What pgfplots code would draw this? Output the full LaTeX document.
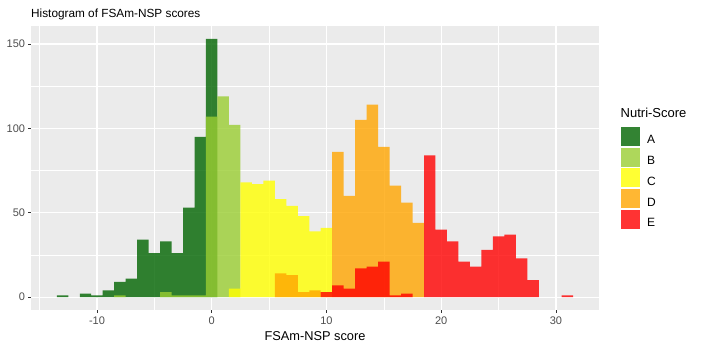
\documentclass[border=0pt]{standalone}
\usepackage{fontspec}
\setmainfont{Liberation Sans}
\usepackage{pgfplots}
\pgfplotsset{compat=1.18}
\definecolor{cA}{HTML}{006400}
\definecolor{cB}{HTML}{9ACD32}
\definecolor{cC}{HTML}{FFFF00}
\definecolor{cD}{HTML}{FFA500}
\definecolor{cE}{HTML}{FF0000}
\definecolor{panel}{HTML}{EBEBEB}
\definecolor{ticklab}{HTML}{4D4D4D}
\definecolor{tickc}{HTML}{333333}
\pgfplotsset{
  hbar/.style={ybar, bar width=1, bar shift=0pt, draw=none, fill opacity=0.8,
    legend image code/.code={\fill[##1] (0pt,-5.3pt) rectangle (19.5pt,13.7pt);}},
}
\begin{document}
\begin{tikzpicture}[x=1pt,y=1pt]
\path[use as bounding box] (0,0) rectangle (701,351);
\begin{axis}[
  at={(31pt,41pt)}, anchor=south west,
  scale only axis, width=568pt, height=284pt,
  xmin=-15.75, xmax=33.75, ymin=-7.65, ymax=160.65,
  axis background/.style={fill=panel},
  axis line style={draw=none},
  xtick={-10,0,10,20,30}, xticklabels={-10,0,10,20,30},
  ytick={0,50,100,150}, yticklabels={0,50,100,150},
  minor xtick={-15,-5,5,15,25}, minor ytick={25,75,125},
  grid=both,
  major grid style={white, line width=1.1pt},
  minor grid style={white, line width=0.55pt},
  tick align=outside, major tick length=2.75pt, minor tick length=0pt,
  xtick pos=lower, ytick pos=left,
  every tick/.style={tickc, line width=0.55pt},
  ticklabel style={font=\fontsize{11}{12}\selectfont, text=ticklab, inner sep=0pt},
  xticklabel style={yshift=-4pt},
  yticklabel style={xshift=-3pt},
  title={Histogram of FSAm-NSP scores},
  title style={at={(0,1)}, anchor=base west, yshift=2.8pt, inner sep=0pt, font=\fontsize{11.8}{13}\selectfont},
  xlabel={FSAm-NSP score},
  xlabel style={at={(0.5,0)}, anchor=base, yshift=-30.7pt, inner sep=0pt, font=\fontsize{12.8}{14}\selectfont},
  legend style={at={(1.0382,0.6454)}, anchor=north west, draw=none, fill=none,
    inner sep=0pt, outer sep=0pt, row sep=1.8pt, column sep=7pt, font=\fontsize{12}{13}\selectfont,
    nodes={inner sep=0pt, text=black}},
  legend cell align=left,
]
\addplot[hbar, fill=cA] coordinates {
(-13,1) (-11,2) (-10,1) (-9,4) (-8,9) (-7,11) (-6,34) (-5,26) (-4,33) (-3,26) (-2,53) (-1,95) (0,153)
};
\addlegendentry{A}
\addplot[hbar, fill=cB] coordinates {
(-8,1) (-4,3) (-3,1) (-2,1) (-1,1) (0,107) (1,119) (2,102)
};
\addlegendentry{B}
\addplot[hbar, fill=cC] coordinates {
(2,5) (3,68) (4,67) (5,69) (6,58) (7,54) (8,48) (9,39) (10,41)
};
\addlegendentry{C}
\addplot[hbar, fill=cD] coordinates {
(6,14) (7,13) (8,3) (9,4) (11,86) (12,60) (13,105) (14,114) (15,89) (16,66) (17,56) (18,44)
};
\addlegendentry{D}
\addplot[hbar, fill=cE] coordinates {
(10,3) (11,7) (12,5) (13,17) (14,18) (15,21) (16,1) (17,2) (19,84) (20,40) (21,33) (22,21) (23,18) (24,28) (25,36) (26,37) (27,23) (28,10) (31,1)
};
\addlegendentry{E}
\end{axis}
\node[anchor=base west, inner sep=0pt, font=\fontsize{13}{14}\selectfont] at (620.5,233.7) {Nutri-Score};
\end{tikzpicture}
\end{document}
